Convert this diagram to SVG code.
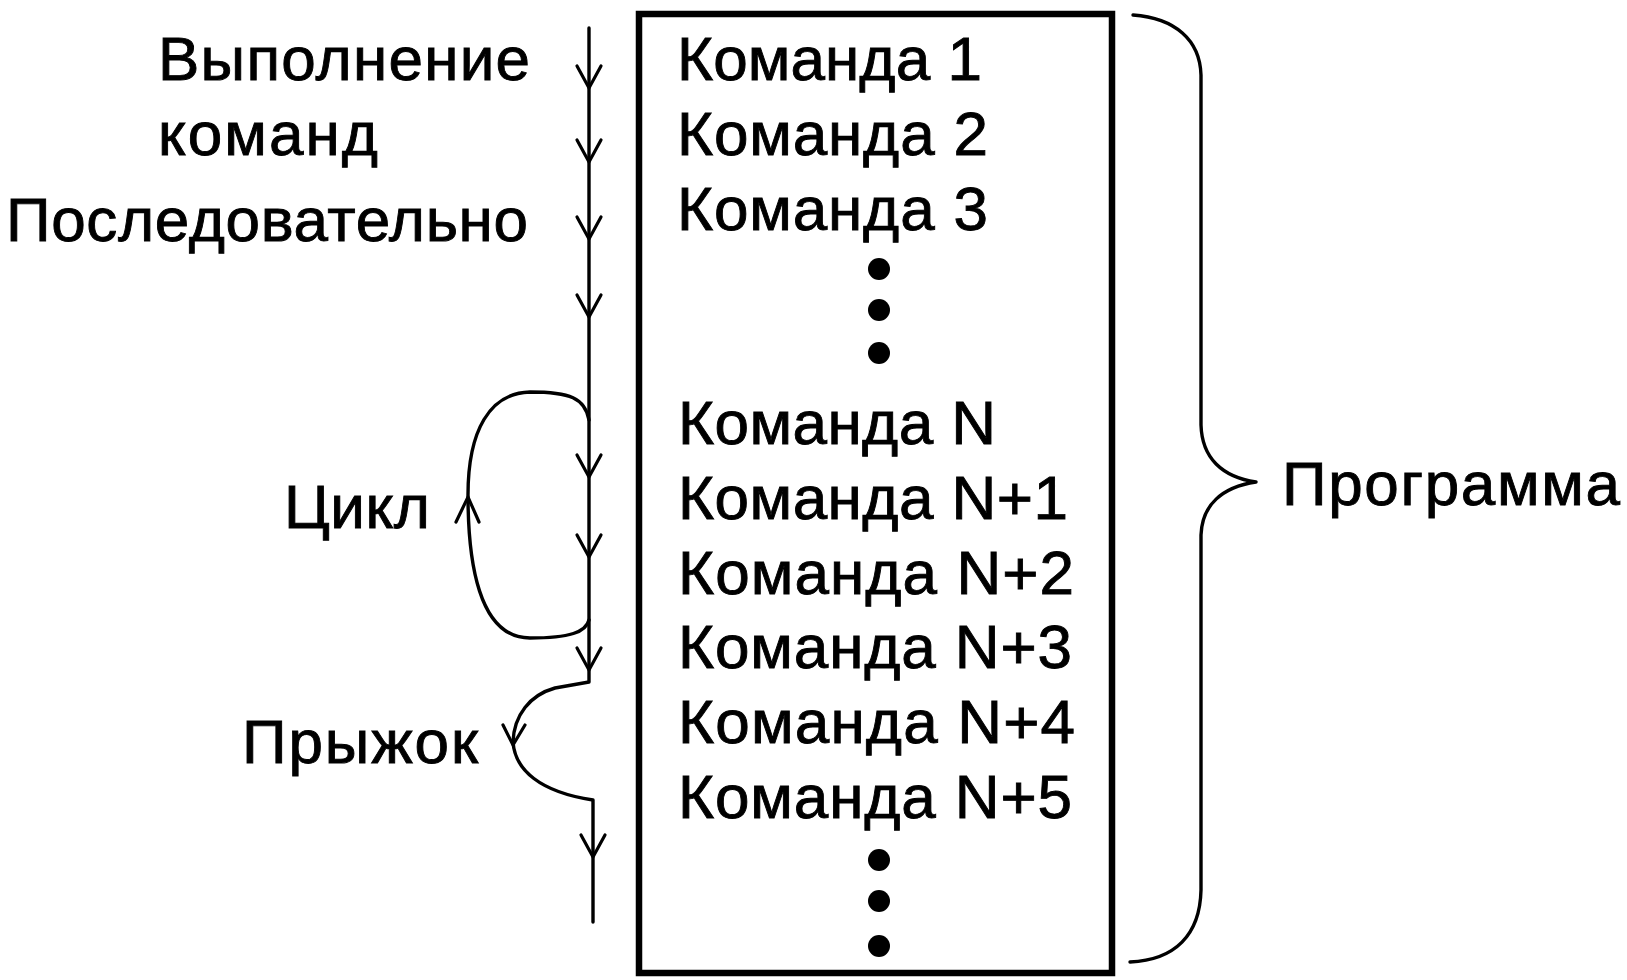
<svg xmlns="http://www.w3.org/2000/svg" width="1627" height="980" viewBox="0 0 1627 980">
<style>
  .t { font-family: "Liberation Sans", Arial, sans-serif; font-size: 62px; fill: #000; stroke: #000; stroke-width: 0.9; }
  .ln { fill: none; stroke: #000; stroke-width: 3.4; stroke-linejoin: round; stroke-linecap: round; }
  .ah { fill: none; stroke: #000; stroke-width: 3.2; stroke-linejoin: miter; stroke-linecap: round; }
  .dot { fill: #000; }
</style>
<rect width="1627" height="980" fill="#fff"/>

<g id="program-box">
  <rect x="639" y="14" width="473" height="959" fill="none" stroke="#000" stroke-width="6.5"/>
  <text class="t" x="677" y="80" textLength="305">Команда 1</text>
  <text class="t" x="677" y="155" textLength="311">Команда 2</text>
  <text class="t" x="677" y="230" textLength="311">Команда 3</text>
  <circle class="dot" cx="879" cy="269" r="11"/>
  <circle class="dot" cx="879" cy="310" r="11"/>
  <circle class="dot" cx="879" cy="353" r="11"/>
  <text class="t" x="678" y="444" textLength="318">Команда N</text>
  <text class="t" x="678" y="519" textLength="390">Команда N+1</text>
  <text class="t" x="678" y="594" textLength="396">Команда N+2</text>
  <text class="t" x="678" y="668" textLength="394">Команда N+3</text>
  <text class="t" x="678" y="743" textLength="397">Команда N+4</text>
  <text class="t" x="678" y="818" textLength="394">Команда N+5</text>
  <circle class="dot" cx="879" cy="860" r="11"/>
  <circle class="dot" cx="879" cy="901" r="11"/>
  <circle class="dot" cx="879" cy="946" r="11"/>
</g>

<g id="labels">
  <text class="t" x="158" y="80" textLength="372">Выполнение</text>
  <text class="t" x="158" y="155" textLength="220">команд</text>
  <text class="t" x="6" y="241" textLength="522">Последовательно</text>
  <text class="t" x="284" y="528" textLength="146">Цикл</text>
  <text class="t" x="242" y="763" textLength="236">Прыжок</text>
</g>

<g id="program-label">
  <path class="ln" stroke-width="4" d="M1133,15 C1175,18 1200,40 1201,75 L1201,425 C1202,458 1222,477 1256,482 C1222,487 1202,505 1201,535 L1201,890 C1200,935 1175,960 1130,962"/>
  <text class="t" x="1282" y="505" textLength="338">Программа</text>
</g>

<g id="connectors">
  <path class="ln" d="M589,28 L589,682 L555,688 C530,695 514,715 513,742 C515,770 540,792 593,800 L593,922"/>
  <path class="ln" d="M589,420 C585,398 570,392 530,392 C490,393 468,430 468,495 C468,560 478,638 530,638 C570,638 586,632 589,620"/>
  <path class="ah" d="M577,66 L589,88 L601,66"/>
  <path class="ah" d="M577,140 L589,162 L601,140"/>
  <path class="ah" d="M577,217 L589,239 L601,217"/>
  <path class="ah" d="M577,295 L589,317 L601,295"/>
  <path class="ah" d="M577,455 L589,477 L601,455"/>
  <path class="ah" d="M577,535 L589,557 L601,535"/>
  <path class="ah" d="M577,648 L589,670 L601,648"/>
  <path class="ah" d="M581,835 L593,857 L605,835"/>
  <path class="ah" d="M456,522 L468,497 L479,522"/>
  <path class="ah" d="M503,725 L513,745 L525,725"/>
</g>
</svg>
